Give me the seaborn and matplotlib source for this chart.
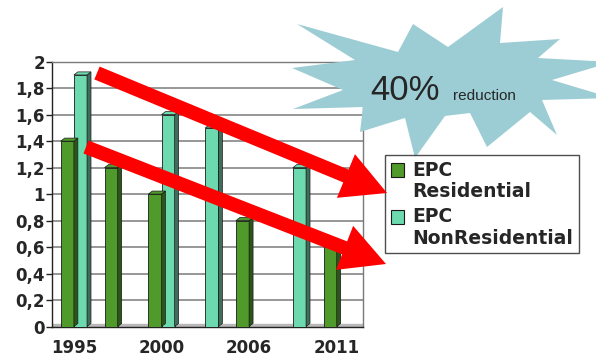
import numpy as np
import pandas as pd
import matplotlib
matplotlib.use("Agg")
import matplotlib.pyplot as plt
import seaborn as sns
from matplotlib.patches import Polygon, Patch, FancyArrowPatch, ArrowStyle, Rectangle
from matplotlib.legend_handler import HandlerPatch

# ---------------------------------------------------------------------------
# data
# ---------------------------------------------------------------------------
periods = ["p1", "p2", "p3", "p4", "p5", "p6", "p7"]
tick_labels = ["1995", "", "2000", "", "2006", "", "2011"]
residential = [1.4, 1.2, 1.0, np.nan, 0.8, np.nan, 0.6]
non_residential = [1.9, np.nan, 1.6, 1.5, np.nan, 1.2, np.nan]
series_names = ["EPC\nResidential", "EPC\nNonResidential"]
y_ticks = [0, 0.2, 0.4, 0.6, 0.8, 1.0, 1.2, 1.4, 1.6, 1.8, 2.0]

colors = {"EPC\nResidential": "#4F9A2B", "EPC\nNonResidential": "#6DD9AE"}
side_colors = {"#4f9a2b": "#2C5619", "#6dd9ae": "#3E6E5B"}

df = pd.concat([
    pd.DataFrame({"period": periods, "value": residential, "type": series_names[0]}),
    pd.DataFrame({"period": periods, "value": non_residential, "type": series_names[1]}),
]).dropna()

# ---------------------------------------------------------------------------
# figure
# ---------------------------------------------------------------------------
W, H = 596, 358
sns.set_style("white")
plt.rcParams["font.family"] = ["DejaVu Sans"]

fig = plt.figure(figsize=(W / 100, H / 100), dpi=100)


def fx(px):
    return px / W


def fy(py):
    return 1 - py / H


ax = fig.add_axes([fx(52), fy(326.5), fx(363) - fx(52), fy(61.7) - fy(326.5)])

sns.barplot(data=df, x="period", y="value", hue="type", order=periods,
            hue_order=series_names, palette=colors, width=0.6, dodge=True,
            saturation=1, errorbar=None, edgecolor="#1a1a1a", linewidth=0.6,
            legend=False, ax=ax, zorder=3)

# fake 3D depth on every bar
dx, dy = 0.09, 0.023
for cont in ax.containers:
    for bar in cont:
        h = bar.get_height()
        if not np.isfinite(h) or h <= 0:
            continue
        x0, w = bar.get_x(), bar.get_width()
        fc = matplotlib.colors.to_hex(bar.get_facecolor())
        side = side_colors.get(fc, "#333333")
        ax.add_patch(Polygon([(x0 + w, 0), (x0 + w + dx, dy), (x0 + w + dx, h + dy), (x0 + w, h)],
                             closed=True, facecolor=side, edgecolor="#1a1a1a", lw=0.5, zorder=3))
        ax.add_patch(Polygon([(x0, h), (x0 + dx, h + dy), (x0 + w + dx, h + dy), (x0 + w, h)],
                             closed=True, facecolor=fc, edgecolor="#1a1a1a", lw=0.5, zorder=3))

# floor slab
ax.axhspan(0, 0.022, color="#b8b8b8", zorder=2)

ax.set_xlim(-0.5, 6.6)
ax.set_ylim(0, 2)
ax.set_yticks(y_ticks)
ax.set_yticklabels([f"{v:g}".replace(".", ",") for v in y_ticks],
                   fontsize=12, fontweight="bold")
ax.set_xticks(range(len(periods)))
ax.set_xticklabels(tick_labels, fontsize=12, fontweight="bold")
ax.set_xticks(np.arange(-0.5, 7, 1), minor=True)
ax.tick_params(axis="x", which="major", length=0, pad=9)
ax.tick_params(axis="x", which="minor", length=5, width=1, color="#222222")
ax.tick_params(axis="y", length=4, width=1, pad=1, color="#222222", left=True)
ax.set_xlabel("")
ax.set_ylabel("")

ax.yaxis.grid(True, color="#7a7a7a", lw=1.1)
ax.set_axisbelow(True)
for s in ["left", "bottom"]:
    ax.spines[s].set_color("#222222")
    ax.spines[s].set_linewidth(1)
for s in ["top", "right"]:
    ax.spines[s].set_color("#7a7a7a")
    ax.spines[s].set_linewidth(1)

# starburst callout
star_px = [(292, 68), (355, 60), (297, 24), (398, 52), (413, 24), (448, 47),
           (503, 7), (500, 43), (560, 39), (538, 58), (612, 62), (552, 80),
           (612, 98), (542, 100), (557, 135), (530, 112), (487, 147), (470, 113),
           (445, 116), (415, 158), (405, 118), (360, 132), (363, 107), (293, 109),
           (343, 90)]
star = Polygon([(fx(x), fy(y)) for x, y in star_px], closed=True,
               transform=fig.transFigure, facecolor="#9DCDD4", edgecolor="none",
               zorder=5)
fig.add_artist(star)
fig.text(fx(370), fy(100), "40%", fontsize=25, family="Liberation Sans",
         va="baseline", ha="left", zorder=6)
fig.text(fx(453), fy(100), "reduction", fontsize=11, family="Liberation Sans",
         va="baseline", ha="left", zorder=6)


# legend: swatch aligned with first text line
def top_swatch(legend, orig_handle, xdescent, ydescent, width, height, fontsize):
    return Rectangle((-xdescent, -ydescent + 0.62 * fontsize), width, height)


handles = [Patch(facecolor=colors[n], edgecolor="#1a1a1a", lw=0.8) for n in series_names]
leg = fig.legend(handles, series_names, loc="upper left",
                 bbox_to_anchor=(fx(385), fy(155)), frameon=True, fancybox=False,
                 edgecolor="#222222", prop={"weight": "bold", "size": 13.5},
                 handlelength=0.72, handleheight=0.72, handletextpad=0.45,
                 labelspacing=0.35, borderpad=0.3, borderaxespad=0,
                 handler_map={Patch: HandlerPatch(patch_func=top_swatch)})
for t in leg.get_texts():
    t.set_linespacing(1.15)
leg.get_frame().set_linewidth(1)
leg.set_zorder(7)

# the two red arrows
for (x0, y0), (x1, y1) in [((97, 73), (387, 193)), ((86, 147), (386, 264))]:
    arr = FancyArrowPatch((fx(x0), fy(y0)), (fx(x1), fy(y1)),
                          transform=fig.transFigure,
                          arrowstyle=ArrowStyle.Simple(head_length=32, head_width=34,
                                                       tail_width=10),
                          mutation_scale=1, shrinkA=0, shrinkB=0,
                          facecolor="#FF0000", edgecolor="none", zorder=8)
    fig.add_artist(arr)

fig.savefig("out.png", dpi=100)
